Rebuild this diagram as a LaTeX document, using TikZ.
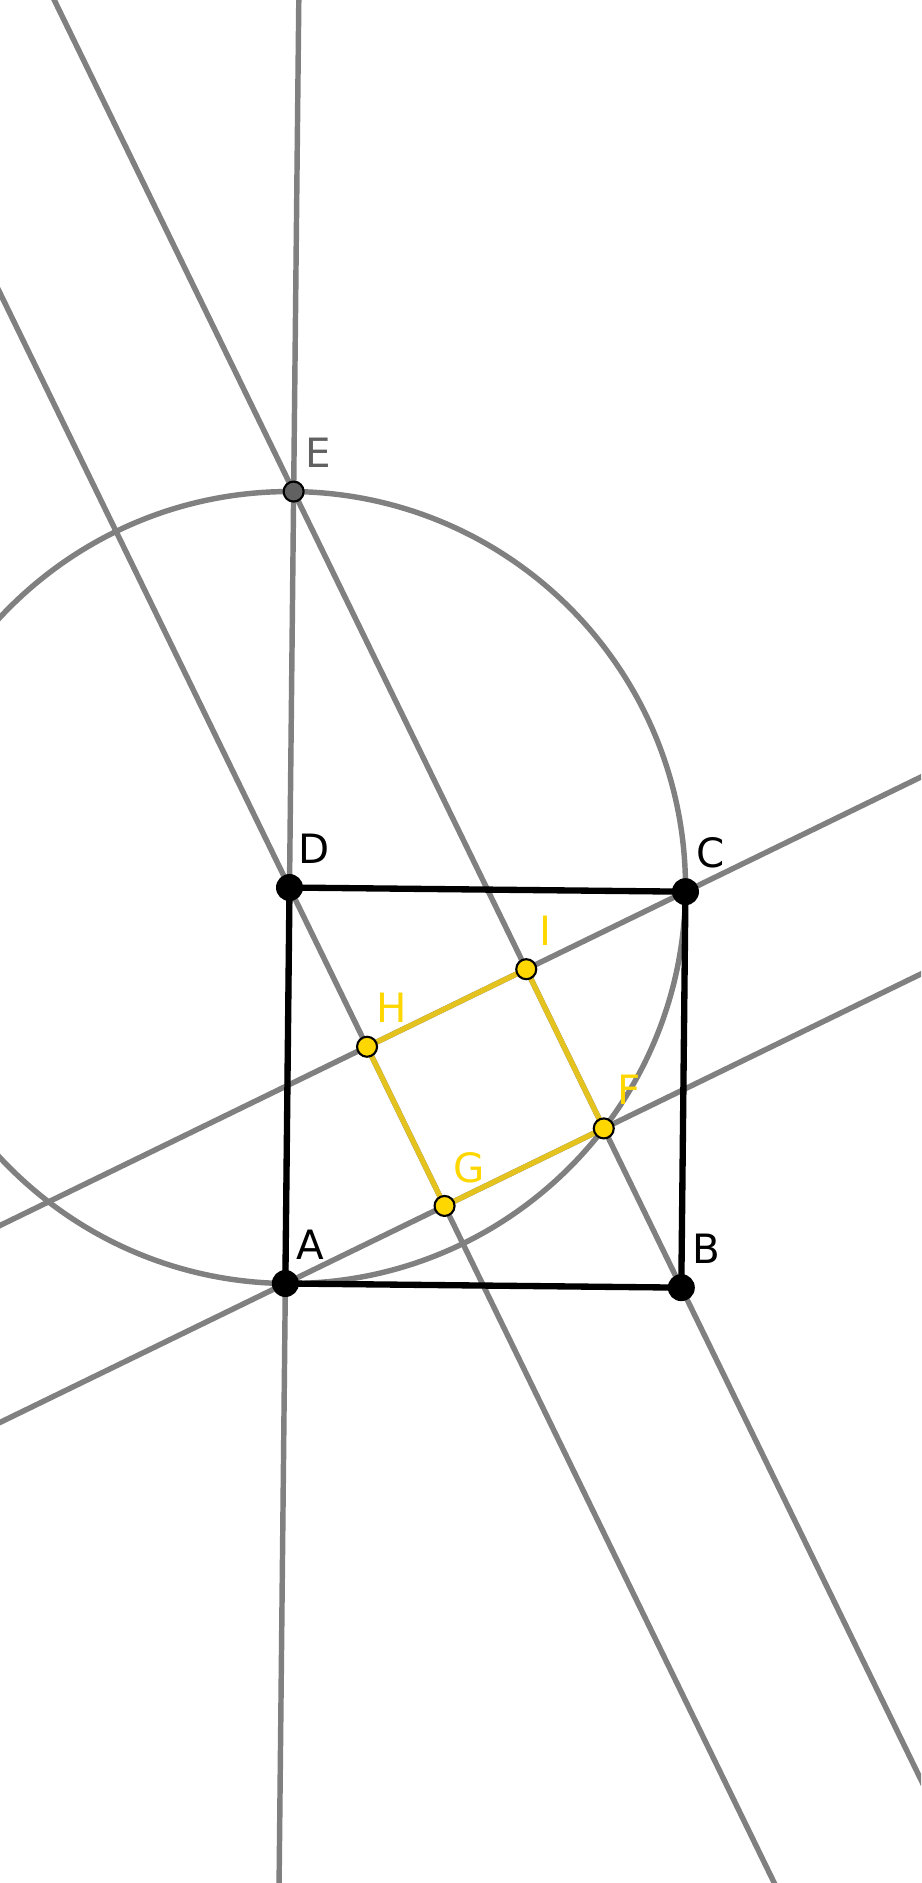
\documentclass[tikz,border=0pt]{standalone}
\usepackage{fontspec}
\setmainfont{DejaVu Sans}
\usetikzlibrary{calc}
\definecolor{linegray}{RGB}{128,128,128}
\definecolor{ptgray}{RGB}{97,97,97}
\definecolor{ptyellow}{RGB}{255,215,0}
\definecolor{segyellow}{RGB}{229,195,30}

\begin{document}
\begin{tikzpicture}[
    gline/.style={draw=linegray,line width=1.55pt},
    side/.style={draw=black,line width=1.8pt},
    yside/.style={draw=segyellow,line width=1.5pt},
    bigpt/.style={circle,fill=black,inner sep=0pt,minimum size=0.27cm},
    ypt/.style={circle,draw=black,fill=ptyellow,line width=0.6pt,inner sep=0pt,minimum size=0.2cm},
    gpt/.style={ypt,fill=ptgray},
    lbl/.style={font=\fontsize{11.5}{13}\selectfont,inner sep=0pt,xshift=0.25cm,yshift=0.385cm}
]
    \useasboundingbox (0,0) rectangle (9.21,18.83);
    \clip (0,0) rectangle (9.21,18.83);
    \begin{scope}[shift={(4.854,7.954)},rotate=-0.6,x=3.96cm,y=3.96cm]
    \coordinate (A) at (-0.5,-0.5);
    \coordinate (B) at (0.5,-0.5);
    \coordinate (C) at (0.5,0.5);
    \coordinate (D) at (-0.5,0.5);
    \coordinate (E) at (-0.5,1.5);
    \coordinate (F) at (0.3,-0.1);
    \coordinate (G) at (-0.1,-0.3);
    \coordinate (H) at (-0.3,0.1);
    \coordinate (I) at (0.1,0.3);
    \coordinate (Abot) at ($(A)!-1!(E)$);
    \coordinate (Etop) at ($(A)!2!(E)$);
    \coordinate (EBtop) at ($(E)!-1!(B)$);
    \coordinate (EBbot) at ($(E)!2!(B)$);
    \coordinate (Dtop) at ($(D)!-3!(G)$);
    \coordinate (Gbot) at ($(D)!6!(G)$);
    \coordinate (Cright) at ($(C)!-1!(H)$);
    \coordinate (Hleft) at ($(C)!3!(H)$);
    \coordinate (Aleft) at ($(A)!-2!(F)$);
    \coordinate (Fright) at ($(A)!3!(F)$);

    \draw[gline] (Abot)--(Etop);
    \draw[gline] (EBtop)--(EBbot);
    \draw[gline] (Dtop)--(Gbot);
    \draw[gline] (Cright)--(Hleft);
    \draw[gline] (Aleft)--(Fright);
    \draw[gline] (D) circle[radius=1];

    \draw[side] (A)--(B);
    \draw[side] (B)--(C);
    \draw[side] (C)--(D);
    \draw[side] (D)--(A);
    \draw[yside] (H)--(I);
    \draw[yside] (I)--(F);
    \draw[yside] (F)--(G);
    \draw[yside] (G)--(H);

    \node[bigpt] (pA) at (A) {};
    \node[bigpt] (pB) at (B) {};
    \node[bigpt] (pC) at (C) {};
    \node[bigpt] (pD) at (D) {};
    \node[gpt] (pE) at (E) {};
    \node[ypt] (pF) at (F) {};
    \node[ypt] (pG) at (G) {};
    \node[ypt] (pH) at (H) {};
    \node[ypt] (pI) at (I) {};

    \node[lbl] (lA) at (A) {A};
    \node[lbl] (lB) at (B) {B};
    \node[lbl] (lC) at (C) {C};
    \node[lbl] (lD) at (D) {D};
    \node[lbl,text=ptgray] (lE) at (E) {E};
    \node[lbl,text=ptyellow] (lF) at (F) {F};
    \node[lbl,text=ptyellow] (lG) at (G) {G};
    \node[lbl,text=ptyellow] (lH) at (H) {H};
    \node[lbl,text=ptyellow,xshift=-0.06cm] (lI) at (I) {I};
    \end{scope}
\end{tikzpicture}
\end{document}
